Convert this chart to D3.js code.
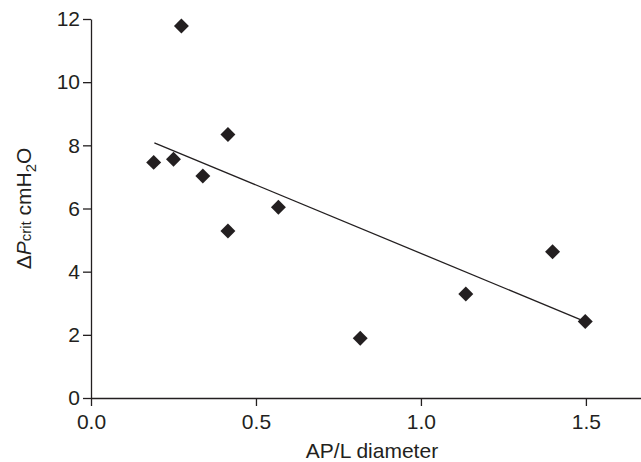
<!DOCTYPE html>
<meta charset="utf-8">
<script src="https://d3js.org/d3.v7.min.js"></script>
<style>
  body{margin:0;background:#fff;}
  text{font-family:"Liberation Sans",Arial,sans-serif;fill:#231f20;}
</style>
<div id="chart"></div>
<script>
    // values
    const ratio=[0.190,0.250,0.274,0.339,0.415,0.415,0.568,0.816,1.136,1.399,1.498];
    const dPcrit=[7.46,7.56,11.78,7.03,8.34,5.29,6.04,1.89,3.29,4.63,2.42];
    const fitX=[0.192,1.498];
    const fitY=[8.08,2.42];
    const xTicks=[0,0.5,1.0,1.5];
    const yTicks=[0,2,4,6,8,10,12];

    const W=641,H=462;
    const margin={top:19,bottom:64,left:91,right:0};

    const svg=d3.select("#chart")
        .append("svg")
            .attr("width",W)
            .attr("height",H);

    const x=d3.scaleLinear()
        .domain([0,1.667])
        .range([margin.left,W-margin.right]);
    const y=d3.scaleLinear()
        .domain([0,12])
        .range([H-margin.bottom,margin.top]);

    const ink="#231f20";

    const gx=svg.append("g")
        .attr("transform",`translate(0,${y(0)})`)
        .call(d3.axisBottom(x).tickValues(xTicks).tickFormat(d3.format(".1f")).tickSize(8).tickPadding(8).tickSizeOuter(0));
    const gy=svg.append("g")
        .attr("transform",`translate(${x(0)},0)`)
        .call(d3.axisLeft(y).tickValues(yTicks).tickSize(8).tickPadding(3).tickSizeOuter(0));

    [gx,gy].forEach(g=>{
        g.select(".domain").attr("stroke",ink).attr("stroke-width",1.3);
        g.selectAll(".tick line").attr("stroke",ink).attr("stroke-width",1.3);
        g.selectAll(".tick text").attr("font-size",21).attr("fill",ink)
            .style("font-family","'Liberation Sans',Arial,sans-serif");
    });

    // regression line
    svg.append("line")
        .attr("x1",x(fitX[0])).attr("y1",y(fitY[0]))
        .attr("x2",x(fitX[1])).attr("y2",y(fitY[1]))
        .attr("stroke",ink)
        .attr("stroke-width",1.3);

    // diamonds
    const sym=d3.symbol().type(d3.symbolSquare).size(112);
    svg.selectAll("path.pt")
        .data(ratio.map((r,i)=>[r,dPcrit[i]]))
        .join("path")
            .attr("class","pt")
            .attr("d",sym)
            .attr("transform",d=>`translate(${x(d[0])},${y(d[1])})rotate(45)`)
            .attr("fill",ink);

    // axis titles
    svg.append("text")
        .attr("x",(x(0)+W)/2+6)
        .attr("y",458)
        .attr("text-anchor","middle")
        .attr("font-size",21)
        .text("AP/L diameter");

    const yl=svg.append("text")
        .attr("transform",`translate(31,${(y(0)+y(12))/2})rotate(-90)`)
        .attr("text-anchor","middle")
        .attr("font-size",21);
    yl.append("tspan").text("Δ");
    yl.append("tspan").attr("font-style","italic").text("P");
    yl.append("tspan").attr("font-size",15).text("crit");
    yl.append("tspan").text(" cmH");
    yl.append("tspan").attr("font-size",15).attr("dy",5).text("2");
    yl.append("tspan").attr("dy",-5).text("O");
</script>
